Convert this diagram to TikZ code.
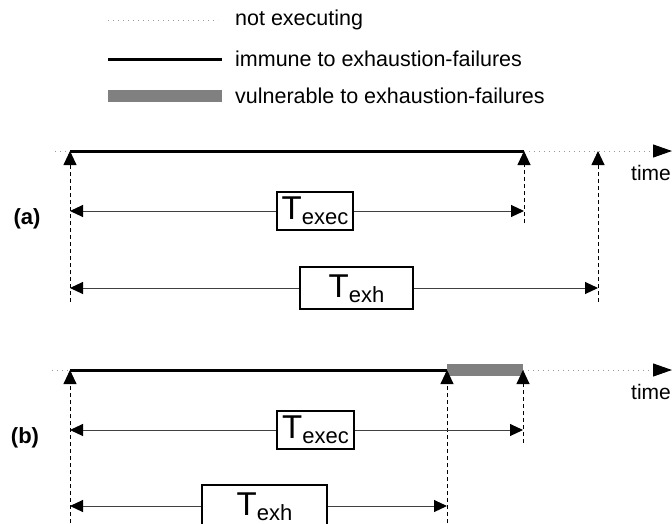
\documentclass[tikz,border=0pt]{standalone}
\usepackage{fontspec}
\setmainfont{Liberation Sans}
\usetikzlibrary{arrows.meta}

% T with a lowered subscript, as used inside the duration boxes
\newcommand\tlab[1]{{\fontsize{33}{33}\selectfont T}\raisebox{-5.5pt}{\fontsize{22}{22}\selectfont #1}}

\begin{document}
\begin{tikzpicture}[x=1pt,y=-1pt,
  idle/.style={draw=black!40, line width=1pt, dash pattern=on 1pt off 4pt},
  busy/.style={draw=black, line width=3pt},
  risk/.style={draw=black!50, line width=12pt},
  timetip/.style={-{Triangle[length=19pt,width=13pt,black]}},
  tickline/.style={draw=black, line width=0.9pt, dash pattern=on 4pt off 3pt,
    -{Triangle[length=14pt,width=13pt]}},
  span/.style={draw=black!75, line width=1pt, -{Triangle[length=13pt,width=12pt,black]}},
  tbox/.style={draw=black, line width=1.3pt, inner sep=0pt, fill=white},
  execbox/.style={tbox, minimum height=38pt, text height=24pt, text depth=8pt},
  exhbox/.style={tbox, minimum height=42pt, text height=25pt, text depth=7pt},
  txt/.style={font=\fontsize{21.5}{25}\selectfont, inner sep=0pt},
  timetxt/.style={font=\fontsize{21}{25}\selectfont, inner sep=0pt},
  panel/.style={font=\bfseries\fontsize{22}{26}\selectfont, inner sep=0pt}
]
\clip (0,0) rectangle (672,523);

% ---------- legend ----------
\node[txt, anchor=west] (leg1) at (235,20) {not executing};
\node[txt, anchor=west] (leg2) at (235,59) {immune to exhaustion-failures};
\node[txt, anchor=west] (leg3) at (235,96) {vulnerable to exhaustion-failures};
\coordinate (k1a) at (108,20);  \coordinate (k1b) at (218,20);
\coordinate (k2a) at (108,59);  \coordinate (k2b) at (222,59);
\coordinate (k3a) at (108,96);  \coordinate (k3b) at (222,96);
\draw[idle] (k1a) -- (k1b);
\draw[busy] (k2a) -- (k2b);
\draw[risk] (k3a) -- (k3b);

% ---------- case (a) ----------
\coordinate (a0) at (55,151);
\coordinate (a1) at (70,151);
\coordinate (a2) at (524,151);
\coordinate (a3) at (598,151);
\coordinate (aend) at (672,151);
\coordinate (a1b) at (70,302);
\coordinate (a2b) at (524,223);
\coordinate (a3b) at (598,302);

\draw[tickline] (a1b) -- (a1);
\draw[tickline] (a2b) -- (a2);
\draw[tickline] (a3b) -- (a3);

\draw[idle] (a0) -- (a1);
\draw[busy] (a1) -- (a2);
\draw[idle, timetip] (a2) -- (aend);
\node[timetxt] (atime) at (651,173) {time};
\node[panel] (pa) at (27,219) {(a)};

\node[execbox, minimum width=76pt] (aexec) at (315,211) {\tlab{exec}};
\draw[span] (aexec.west) -- (a1 |- aexec.west);
\draw[span] (aexec.east) -- (a2 |- aexec.east);

\node[exhbox, minimum width=113pt] (aexh) at (356.5,288) {\tlab{exh}};
\draw[span] (aexh.west) -- (a1 |- aexh.west);
\draw[span] (aexh.east) -- (a3 |- aexh.east);

% ---------- case (b) ----------
\coordinate (b0) at (52,370);
\coordinate (b1) at (70,370);
\coordinate (b2) at (447,370);
\coordinate (b3) at (523,370);
\coordinate (bend) at (672,370);
\coordinate (b1b) at (70,530);
\coordinate (b2b) at (447,530);
\coordinate (b3b) at (523,443);

\draw[idle] (b0) -- (b1);
\draw[busy] (b1) -- (b2);
\draw[risk] (b2) -- (b3);
\draw[idle, timetip] (b3) -- (bend);

\draw[tickline] (b1b) -- (b1);
\draw[tickline] (b2b) -- (b2);
\draw[tickline] (b3b) -- (b3);

\node[timetxt] (btime) at (651,392) {time};
\node[panel] (pb) at (25,438) {(b)};

\node[execbox, minimum width=77pt] (bexec) at (315.5,430) {\tlab{exec}};
\draw[span] (bexec.west) -- (b1 |- bexec.west);
\draw[span] (bexec.east) -- (b3 |- bexec.east);

\node[exhbox, minimum width=125pt] (bexh) at (264.5,506) {\tlab{exh}};
\draw[span] (bexh.west) -- (b1 |- bexh.west);
\draw[span] (bexh.east) -- (b2 |- bexh.east);
\end{tikzpicture}
\end{document}
